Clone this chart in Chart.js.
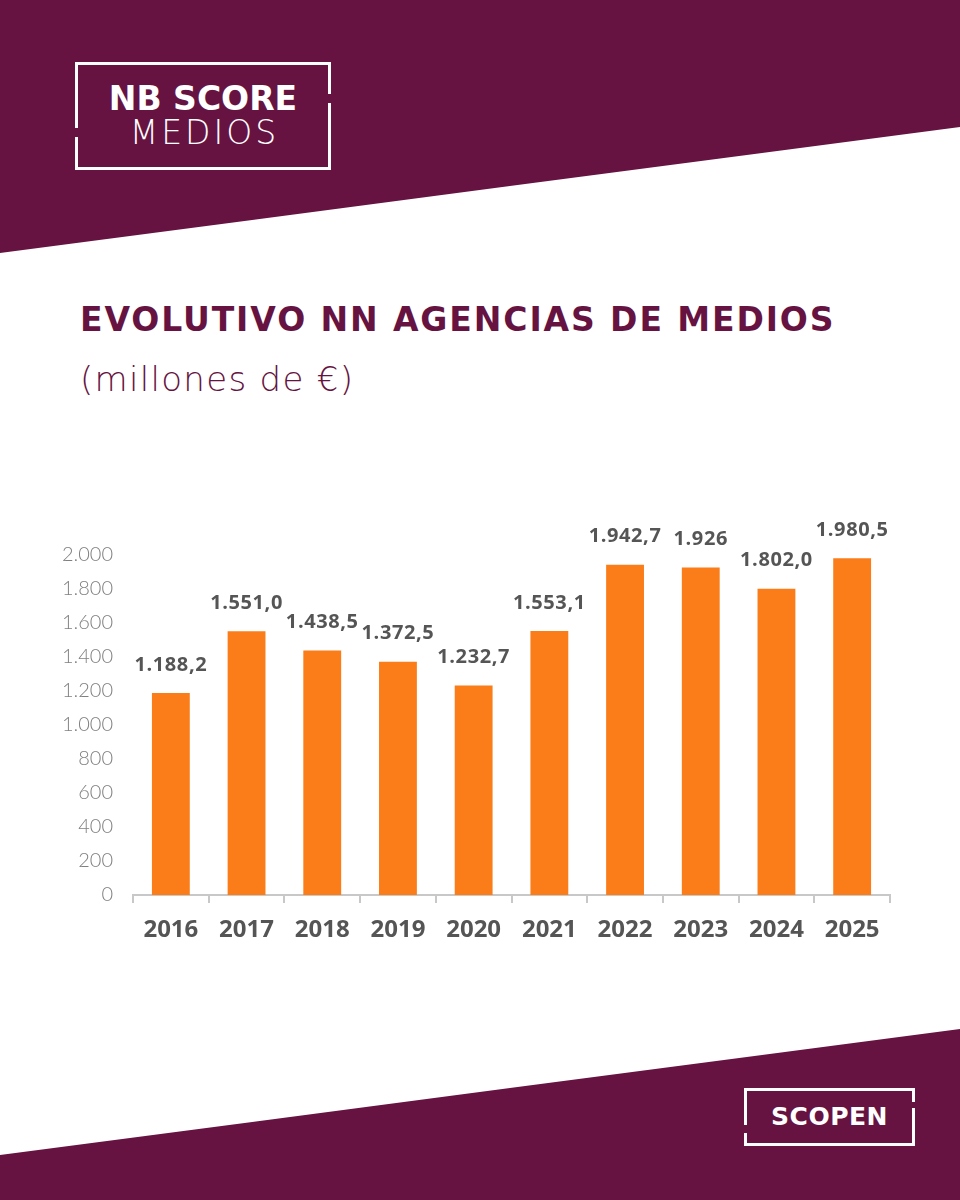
<!DOCTYPE html>
<html>
<head>
<meta charset="utf-8">
<script src="https://cdn.jsdelivr.net/npm/chart.js@4"></script>
<style>
  html, body { margin: 0; padding: 0; }
  body { width: 960px; height: 1200px; position: relative; overflow: hidden; background: #fff; font-family: "DejaVu Sans", sans-serif; }
  .band { position: absolute; left: 0; width: 960px; background: #661341; }
  .band.top { top: 0; height: 260px; clip-path: polygon(0 0, 960px 0, 960px 127px, 0 253px); }
  .band.bottom { top: 1020px; height: 180px; clip-path: polygon(0 135px, 960px 9px, 960px 180px, 0 180px); }
  .logo { position: absolute; color: #fff; text-align: center; }
  .logo svg { position: absolute; left: 0; top: 0; }
  .logo span { position: relative; display: block; white-space: nowrap; }
  .nb { left: 75px; top: 62px; width: 256px; height: 108px; }
  .nb .l1 { font-weight: 700; font-size: 33px; line-height: 33px; padding-top: 20px; }
  .nb .l2 { font-weight: 200; font-size: 33px; line-height: 36px; letter-spacing: 3px; padding-left: 3px; }
  .scopen { left: 744px; top: 1088px; width: 171px; height: 58px; }
  .scopen span { font-weight: 700; font-size: 25px; line-height: 58px; letter-spacing: 0.5px; }
  h1 { position: absolute; left: 80px; top: 300px; margin: 0; font-size: 33px; font-weight: 700; color: #661341; white-space: nowrap; letter-spacing: 1.9px; }
  h2 { position: absolute; left: 80px; top: 359px; margin: 0; font-size: 34px; font-weight: 200; color: #661341; white-space: nowrap; letter-spacing: 1.3px; }
  #wrap { position: absolute; left: 40px; top: 500px; width: 880px; height: 460px; }
</style>
</head>
<body>
<div class="band top"></div>
<div class="band bottom"></div>

<div class="logo nb">
  <svg width="256" height="108">
    <polyline points="1.5,66 1.5,1.5 254.5,1.5 254.5,32" fill="none" stroke="#fff" stroke-width="3"/>
    <polyline points="254.5,41 254.5,106.5 1.5,106.5 1.5,75" fill="none" stroke="#fff" stroke-width="3"/>
  </svg>
  <span class="l1">NB SCORE</span>
  <span class="l2">MEDIOS</span>
</div>

<h1>EVOLUTIVO NN AGENCIAS DE MEDIOS</h1>
<h2>(millones de €)</h2>

<div id="wrap"><canvas id="chart"></canvas></div>

<div class="logo scopen">
  <svg width="171" height="58">
    <polyline points="1.5,37 1.5,1.5 169.5,1.5 169.5,14" fill="none" stroke="#fff" stroke-width="3"/>
    <polyline points="169.5,20 169.5,56.5 1.5,56.5 1.5,45" fill="none" stroke="#fff" stroke-width="3"/>
  </svg>
  <span>SCOPEN</span>
</div>

<script>
// Data
const years = ["2016", "2017", "2018", "2019", "2020", "2021", "2022", "2023", "2024", "2025"];
const revenue = [1188.2, 1551.0, 1438.5, 1372.5, 1232.7, 1553.1, 1942.7, 1926, 1802.0, 1980.5];
const revenueLabels = ["1.188,2", "1.551,0", "1.438,5", "1.372,5", "1.232,7", "1.553,1", "1.942,7", "1.926", "1.802,0", "1.980,5"];
const yTicks = [0, 200, 400, 600, 800, 1000, 1200, 1400, 1600, 1800, 2000];

// draw value labels above each bar
const barLabels = {
  id: "barLabels",
  afterDatasetsDraw(chart) {
    const ctx = chart.ctx;
    const meta = chart.getDatasetMeta(0);
    ctx.save();
    ctx.font = "700 20px 'Open Sans', sans-serif";
    ctx.letterSpacing = "0.6px";
    ctx.fillStyle = "#555555";
    ctx.textAlign = "center";
    ctx.textBaseline = "middle";
    meta.data.forEach((bar, i) => {
      ctx.fillText(revenueLabels[i], bar.x, bar.y - 28);
    });
    ctx.restore();
  }
};

const fmt = v => v >= 1000 ? Math.floor(v / 1000) + "." + String(v % 1000).padStart(3, "0") : String(v);

new Chart(document.getElementById("chart"), {
  type: "bar",
  data: {
    labels: years,
    datasets: [{
      data: revenue,
      backgroundColor: "#FA7D19",
      categoryPercentage: 1,
      barPercentage: 0.5
    }]
  },
  options: {
    responsive: true,
    maintainAspectRatio: false,
    animation: false,
    layout: { padding: { top: 55, right: 30, left: 0, bottom: 0 } },
    plugins: {
      legend: { display: false },
      tooltip: { enabled: false }
    },
    scales: {
      x: {
        grid: { display: true, drawOnChartArea: false, drawTicks: true, tickLength: 8, offset: true, color: "#c8c8c8", lineWidth: 2 },
        border: { display: true, color: "#c8c8c8", width: 2 },
        ticks: { color: "#555555", font: { family: "'Open Sans', sans-serif", size: 24, weight: "700" }, padding: 13 },
        afterFit: scale => { scale.height = 65; }
      },
      y: {
        min: 0,
        max: 2000,
        afterBuildTicks: scale => { scale.ticks = yTicks.map(v => ({ value: v })); },
        grid: { display: false },
        border: { display: false },
        ticks: { color: "#808080", font: { family: "Lato, sans-serif", size: 20, weight: "300" }, padding: 12, callback: v => fmt(v) },
        afterFit: scale => { scale.width = 93; }
      }
    }
  },
  plugins: [barLabels]
});
</script>
</body>
</html>
